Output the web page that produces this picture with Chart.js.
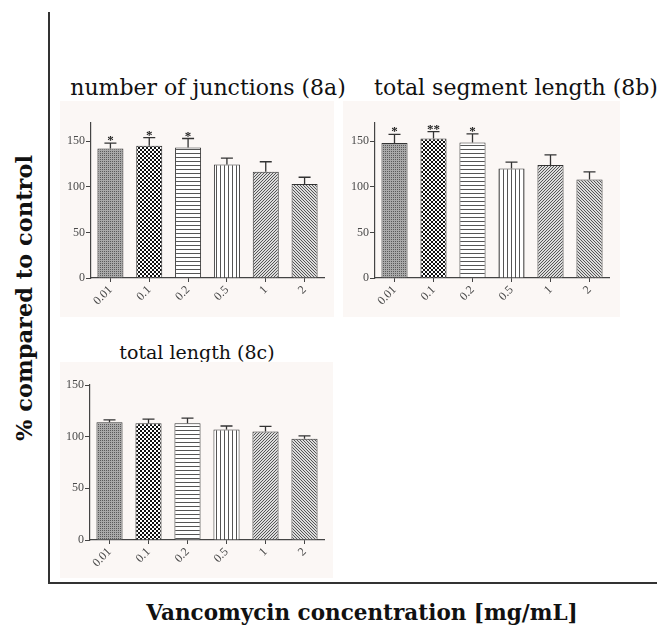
<!DOCTYPE html>
<html>
<head>
<meta charset="utf-8">
<script src="https://cdn.jsdelivr.net/npm/chart.js@4"></script>
<style>
  html,body{margin:0;padding:0;background:#fff;}
  #wrap{position:relative;width:662px;height:630px;overflow:hidden;background:#fff;}
  canvas.panel{position:absolute;background:#fbf7f5;}
  .ttl{position:absolute;font-family:"DejaVu Serif",serif;font-size:22px;color:#111;white-space:nowrap;transform:translate(-50%,-50%);line-height:1;}
  .big{position:absolute;font-family:"DejaVu Serif",serif;font-weight:bold;font-size:21.5px;color:#111;white-space:nowrap;line-height:1;}
  .line{position:absolute;background:#333;}
</style>
</head>
<body>
<div id="wrap">
  <div class="line" style="left:48px;top:12px;width:1.5px;height:572px;"></div>
  <div class="line" style="left:48px;top:582px;width:609px;height:1.5px;"></div>

  <div class="ttl" style="left:208px;top:88px;">number of junctions (8a)</div>
  <div class="ttl" style="left:516px;top:88px;">total segment length (8b)</div>
  <div class="ttl" style="left:197px;top:352px;font-size:19px;">total length (8c)</div>

  <div class="big" style="left:24px;top:298px;font-size:22.5px;transform:translate(-50%,-50%) rotate(-90deg);">% compared to control</div>
  <div class="big" style="left:362px;top:613px;transform:translate(-50%,-50%);">Vancomycin concentration [mg/mL]</div>

  <canvas class="panel" id="c8a" width="274" height="216" style="left:60px;top:101px;"></canvas>
  <canvas class="panel" id="c8b" width="277" height="216" style="left:343px;top:101px;"></canvas>
  <canvas class="panel" id="c8c" width="273" height="216" style="left:60px;top:362px;"></canvas>
</div>
<script>
// ---- data ----
const categories = ['0.01', '0.1', '0.2', '0.5', '1', '2'];
const yTicks = [0, 50, 100, 150];

const junctionsMean = [142, 145, 143, 124.5, 116.5, 103];
const junctionsErr  = [6, 9, 10, 7, 11, 7.5];
const junctionsSig  = ['*', '*', '*', '', '', ''];

const segmentMean = [148, 153, 148.5, 120, 124, 108];
const segmentErr  = [9.5, 7.5, 9.5, 7, 11, 8.5];
const segmentSig  = ['*', '**', '*', '', '', ''];

const lengthMean = [114, 113, 113, 107, 105, 98];
const lengthErr  = [2.3, 4, 5, 3.3, 5, 2.7];
const lengthSig  = ['', '', '', '', '', ''];

// ---- patterns ----
function makePattern(kind) {
  const c = document.createElement('canvas');
  const g = c.getContext('2d');
  const bg = (w, h, col) => { c.width = w; c.height = h; g.fillStyle = col; g.fillRect(0, 0, w, h); };
  if (kind === 'dots') {
    bg(2, 2, '#a9a9a9'); g.fillStyle = '#5a5a5a';
    g.fillRect(0, 0, 1, 1);
  } else if (kind === 'checker') {
    bg(4, 4, '#ffffff'); g.fillStyle = '#111';
    g.fillRect(0, 0, 2, 2); g.fillRect(2, 2, 2, 2);
  } else if (kind === 'hlines') {
    bg(4, 4, '#ffffff'); g.fillStyle = '#555'; g.fillRect(0, 0, 4, 1);
  } else if (kind === 'vlines') {
    bg(4, 4, '#ffffff'); g.fillStyle = '#555'; g.fillRect(0, 0, 1, 4);
  } else if (kind === 'diagR') {
    bg(3, 3, '#dcdcdc'); g.fillStyle = '#555';
    for (let i = 0; i < 3; i++) g.fillRect(i, 2 - i, 1, 1);
  } else if (kind === 'diagL') {
    bg(3, 3, '#dcdcdc'); g.fillStyle = '#555';
    for (let i = 0; i < 3; i++) g.fillRect(i, i, 1, 1);
  }
  return g.createPattern(c, 'repeat');
}
const patternKinds = ['dots', 'checker', 'hlines', 'vlines', 'diagR', 'diagL'];

// ---- error bars + significance plugin ----
const errorPlugin = {
  id: 'errbars',
  afterDatasetsDraw(chart) {
    const ctx = chart.ctx;
    const ds = chart.data.datasets[0];
    const meta = chart.getDatasetMeta(0);
    const ys = chart.scales.y;
    ctx.save();
    meta.data.forEach((bar, i) => {
      const top = ys.getPixelForValue(ds.data[i] + ds.errors[i]);
      ctx.strokeStyle = '#333';
      ctx.lineWidth = 1.3;
      ctx.beginPath();
      ctx.moveTo(bar.x, bar.y);
      ctx.lineTo(bar.x, top);
      ctx.moveTo(bar.x - 6, top);
      ctx.lineTo(bar.x + 6, top);
      ctx.stroke();
      const s = ds.sig[i];
      if (s) {
        ctx.fillStyle = '#222';
        ctx.font = 'bold 13px "Liberation Serif", serif';
        ctx.textAlign = 'center';
        ctx.textBaseline = 'alphabetic';
        ctx.fillText(s, bar.x, top + 1);
      }
    });
    ctx.restore();
  }
};

function makeChart(id, mean, err, sig, ymax, yw, pad, xh) {
  const el = document.getElementById(id);
  return new Chart(el, {
    type: 'bar',
    data: {
      labels: categories,
      datasets: [{
        data: mean,
        errors: err,
        sig: sig,
        backgroundColor: patternKinds.map(makePattern),
        borderColor: '#333',
        borderWidth: 1,
        barPercentage: 0.67,
        categoryPercentage: 1
      }]
    },
    options: {
      responsive: false,
      animation: false,
      events: [],
      layout: { padding: pad },
      plugins: { legend: { display: false }, tooltip: { enabled: false }, title: { display: false } },
      scales: {
        x: {
          type: 'category',
          offset: true,
          grid: { display: true, drawOnChartArea: false, drawTicks: true, tickLength: 4, color: '#444', offset: false },
          border: { display: true, color: '#444', width: 1.2 },
          ticks: { minRotation: 45, maxRotation: 45, padding: 1, color: '#4a4a4a',
                   font: { family: '"Liberation Serif", serif', size: 12 } },
          afterFit(s) { s.height = xh; }
        },
        y: {
          min: 0, max: ymax,
          afterBuildTicks(s) { s.ticks = yTicks.map(v => ({ value: v })); },
          grid: { display: true, drawOnChartArea: false, drawTicks: true, tickLength: 5, color: '#444' },
          border: { display: true, color: '#444', width: 1.2 },
          ticks: { padding: 1, color: '#4a4a4a', font: { family: '"Liberation Serif", serif', size: 12 } },
          afterFit(s) { s.width = yw; }
        }
      }
    },
    plugins: [errorPlugin]
  });
}

makeChart('c8a', junctionsMean, junctionsErr, junctionsSig, 170, 31, { left: 0, right: 10, top: 22, bottom: 0 }, 39);
makeChart('c8b', segmentMean, segmentErr, segmentSig, 170, 32, { left: 0, right: 11, top: 22, bottom: 0 }, 39);
makeChart('c8c', lengthMean, lengthErr, lengthSig, 150, 30, { left: 0, right: 9, top: 23, bottom: 0 }, 38);
</script>
</body>
</html>
